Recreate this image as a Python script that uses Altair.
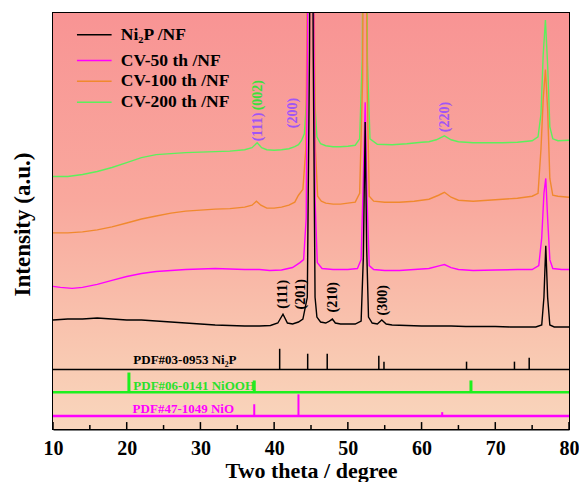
import altair as alt
import pandas as pd

# ---------------- data ----------------
SERIES = ["Ni₂P /NF", "CV-50 th /NF", "CV-100 th /NF", "CV-200 th /NF"]
COLORS = ["#000000", "#FF00FF", "#F0892E", "#5CF05C"]

X_CV200 = [10, 12, 14, 16, 18, 20, 22, 24, 26, 28, 30, 32, 34, 36, 37, 37.7, 38.3, 39, 40, 41,
           42, 42.8, 43.3, 43.7, 44.1, 44.4, 44.7, 44.95, 45.2, 45.5, 45.8, 46.3, 47, 48, 49, 50, 51,
           51.6, 51.95, 52.3, 52.65, 53, 54, 56, 58, 60, 61, 62, 63.1, 64, 65, 67, 69, 71, 73, 75,
           75.8, 76.2, 76.5, 76.8, 77.1, 77.4, 77.8, 78.5, 80]
I_CV200 = [255, 255, 257, 260, 264, 269, 274, 277, 278, 279, 279.5, 280, 280.5, 282, 284, 289, 284,
           282, 281.5, 282, 283, 285, 287, 291, 298, 333, 533, 833, 533, 333, 295, 288, 286, 285, 285,
           285.5, 286.5, 293, 373, 833, 373, 293, 287.5, 287, 288, 289.5, 290, 292, 296, 292, 290, 289,
           289, 289, 289.5, 291, 295, 318, 378, 413, 368, 305, 293, 291, 291.5]

X_CV100 = [10, 12, 14, 16, 18, 20, 22, 24, 26, 28, 30, 32, 34, 36, 37, 37.6, 38.2, 39, 40, 41,
           42, 42.8, 43.3, 43.9, 44.3, 44.6, 44.95, 45.3, 45.6, 45.9, 46.4, 47, 48, 49, 50, 51, 51.6,
           52.0, 52.3, 52.6, 52.9, 53.5, 55, 57, 59, 61, 62.3, 63.1, 64, 65, 67, 69, 71, 73, 75, 75.8,
           76.2, 76.5, 76.8, 77.1, 77.4, 77.8, 78.5, 80]
I_CV100 = [198, 198, 199, 201, 204, 208, 212, 215, 218, 220, 221, 222, 222.5, 224, 226, 230, 226,
           223, 223, 224, 226, 229, 236, 242, 283, 533, 833, 533, 283, 235, 230, 228, 227, 227, 228,
           229, 238, 353, 833, 353, 235, 230, 229, 229, 230, 232, 236, 239, 234, 231, 230, 231, 232,
           233, 235, 238, 283, 333, 363, 323, 253, 236, 235, 234]

X_CV50 = [10, 11, 12.6, 14, 16, 18, 20, 22, 24, 26, 28, 30, 32, 34, 36, 38, 39.4, 41, 42.5, 43.5,
          44.0, 44.35, 44.65, 44.95, 45.25, 45.55, 45.85, 46.5, 48, 50, 51.3, 51.8, 52.1, 52.35, 52.6,
          52.9, 53.5, 55, 57, 59, 61, 62.5, 63.1, 64, 65, 67, 70, 73, 75, 75.9, 76.3, 76.6, 76.85,
          77.1, 77.4, 77.8, 79, 80]
I_CV50 = [144, 143, 142, 143, 146, 150, 154, 157, 159, 160, 161, 161.5, 162, 161.5, 161, 161, 160,
          160.5, 163, 168, 171, 213, 533, 833, 533, 233, 168, 162, 161, 161, 162, 171, 253, 330, 233,
          165, 161, 160, 160, 161, 162, 165, 166, 163, 161, 160, 160.5, 161, 161, 165, 193, 238, 253,
          213, 171, 162, 161, 161]

X_NI2P = [10, 12, 14, 16, 18, 20, 22, 24, 26, 28, 30, 32, 34, 36, 38, 39.5, 40.5, 41.2, 41.8, 42.5,
          43.3, 43.9, 44.5, 44.8, 45.05, 45.3, 45.55, 45.8, 46.3, 47, 47.5, 47.9, 48.3, 49, 50, 51,
          51.8, 52.1, 52.35, 52.55, 52.8, 53.3, 54, 54.6, 55.2, 56, 58, 60, 62, 64, 66, 68, 70, 72,
          74, 75.5, 76.3, 76.6, 76.85, 77.1, 77.4, 78, 80]
I_NI2P = [110, 111, 111, 112, 111, 110, 110, 109, 108, 107, 106, 105, 104.5, 104, 104, 104.5, 107,
          116, 107, 106, 108, 111, 133, 383, 833, 383, 133, 113, 108, 107, 109, 111, 107, 106, 106,
          106, 109, 173, 310, 183, 113, 107, 106, 110, 106, 105, 104.5, 104, 104, 104, 103.5, 103.5,
          103.5, 103, 103, 103, 105, 133, 185, 133, 105, 103, 103]

# reference patterns (2theta, stick height)
PDF_NI2P_POS = [40.75, 44.55, 47.2, 54.2, 54.9, 66.1, 72.6, 74.6]
PDF_NI2P_H = [21, 16, 16, 14, 8, 8, 8, 12]
PDF_NIOOH_POS = [20.3, 37.3, 66.7]
PDF_NIOOH_H = [20, 12, 12]
PDF_NIO_POS = [37.3, 43.3, 62.8]
PDF_NIO_H = [12, 22, 4]
PDF_NAMES = ["PDF#03-0953 Ni₂P", "PDF#06-0141 NiOOH", "PDF#47-1049 NiO"]

# peak labels
PEAK_TEXT_PURPLE = ["(111)", "(200)", "(220)"]
PEAK_X_PURPLE = [37.8, 42.55, 63.2]
PEAK_Y_PURPLE = [305, 319, 315]
PEAK_TEXT_GREEN = ["(002)"]
PEAK_X_GREEN = [37.8]
PEAK_Y_GREEN = [337]
PEAK_TEXT_BLACK = ["(111)", "(201)", "(210)", "(300)"]
PEAK_X_BLACK = [41.2, 43.65, 48.0, 54.7]
PEAK_Y_BLACK = [136, 136, 133, 130]

MAJOR_TICKS = [10, 20, 30, 40, 50, 60, 70, 80]
MINOR_TICKS = [15, 25, 35, 45, 55, 65, 75]

# ---------------- chart ----------------
FONT = "Liberation Serif"
X0, X1 = 10, 80
Y0, Y1 = 0, 420
BASE_NI2P, BASE_NIOOH, BASE_NIO = 60, 37, 13
GREEN_REF = "#1EF01E"
MAGENTA = "#FF00FF"
PURPLE = "#A055F5"
LEGEND_ROWS = [398, 372, 351, 330]          # legend row heights in plot units
LEGEND_LINE = (13.25, 17.95)                # legend line start / end (2-theta units)
LEGEND_TEXT_X = 19.2

X_SCALE = alt.Scale(domain=[X0, X1], nice=False)
Y_SCALE = alt.Scale(domain=[Y0, Y1], nice=False, zero=False)
X_AXIS = alt.Axis(values=MAJOR_TICKS, ticks=False, grid=False, labelFlush=False, labelOverlap=False,
                  labelFont=FONT, labelFontSize=20, labelFontWeight="bold", labelColor="black",
                  labelBaseline="alphabetic", labelPadding=25,
                  domainColor="black", domainWidth=2,
                  title="Two theta / degree", titleFont=FONT, titleFontSize=22, titleFontWeight="bold",
                  titleColor="black", titleBaseline="alphabetic", titleY=48.5)
Y_AXIS = alt.Axis(labels=False, ticks=False, grid=False, domainColor="black", domainWidth=2,
                  title="Intensity (a.u.)", titleFont=FONT, titleFontSize=23, titleFontWeight="bold",
                  titleColor="black", titleAngle=270, titleX=-19, titleY=211,
                  titleBaseline="bottom", titleAlign="center")


def xenc(field="two_theta"):
    return alt.X(f"{field}:Q", scale=X_SCALE, axis=X_AXIS)


def yenc(field="intensity"):
    return alt.Y(f"{field}:Q", scale=Y_SCALE, axis=Y_AXIS)


# background gradient
bg_df = pd.DataFrame({"two_theta": [X0], "two_theta2": [X1], "intensity": [Y0], "intensity2": [Y1]})
background = alt.Chart(bg_df).mark_rect(
    fill={"gradient": "linear", "x1": 0, "y1": 0, "x2": 0, "y2": 1,
          "stops": [{"offset": 0, "color": "#F89494"},
                    {"offset": 0.45, "color": "#F9A89D"},
                    {"offset": 0.85, "color": "#F9CBB3"},
                    {"offset": 1, "color": "#F9D6BD"}]},
    stroke=None
).encode(x=xenc(), x2="two_theta2:Q", y=yenc(), y2="intensity2:Q")

# traces
order = [3, 2, 1, 0]
xs = [X_NI2P, X_CV50, X_CV100, X_CV200]
ys = [I_NI2P, I_CV50, I_CV100, I_CV200]
traces = pd.concat([pd.DataFrame({"two_theta": xs[k], "intensity": ys[k], "series": SERIES[k]})
                    for k in order], ignore_index=True)
lines = alt.Chart(traces).mark_line(clip=True, strokeWidth=1.4).encode(
    x=xenc(), y=yenc(),
    color=alt.Color("series:N", scale=alt.Scale(domain=SERIES, range=COLORS), legend=None)
)

# legend (built from the series names and colours)
legend_df = pd.DataFrame({"series": SERIES, "col": COLORS, "intensity": LEGEND_ROWS,
                          "two_theta": [LEGEND_LINE[0]] * 4, "two_theta2": [LEGEND_LINE[1]] * 4,
                          "tx": [LEGEND_TEXT_X] * 4})
legend_lines = alt.Chart(legend_df).mark_rule(strokeWidth=1.5).encode(
    x=xenc(), x2="two_theta2:Q", y=yenc(), stroke=alt.Stroke("col:N", scale=None))
legend_text = alt.Chart(legend_df).mark_text(
    font=FONT, fontSize=17.5, fontWeight="bold", color="black", align="left", baseline="middle"
).encode(x=alt.X("tx:Q", scale=X_SCALE, axis=X_AXIS), y=yenc(), text="series:N")


def baseline_layer(base, color, width):
    df = pd.DataFrame({"two_theta": [X0], "two_theta2": [X1], "intensity": [base]})
    return alt.Chart(df).mark_rule(color=color, strokeWidth=width).encode(
        x=xenc(), x2="two_theta2:Q", y=yenc())


def stick_layer(pos, h, base, color, width):
    df = pd.DataFrame({"two_theta": pos, "intensity": [base] * len(pos),
                       "intensity2": [base + v for v in h]})
    return alt.Chart(df).mark_rule(color=color, strokeWidth=width).encode(
        x=xenc(), y=yenc(), y2="intensity2:Q")


def label_layer(text, x, y, color, size, angle=0, align="center"):
    df = pd.DataFrame({"two_theta": x, "intensity": y, "label": text})
    kw = dict(color=color, font=FONT, fontSize=size, fontWeight="bold", align=align, baseline="middle")
    if angle:
        kw["angle"] = angle
    return alt.Chart(df).mark_text(**kw).encode(x=xenc(), y=yenc(), text="label:N")


ticks_major = pd.DataFrame({"two_theta": MAJOR_TICKS, "intensity": [Y0] * len(MAJOR_TICKS),
                            "intensity2": [Y0 + 7] * len(MAJOR_TICKS)})
ticks_minor = pd.DataFrame({"two_theta": MINOR_TICKS, "intensity": [Y0] * len(MINOR_TICKS),
                            "intensity2": [Y0 + 4] * len(MINOR_TICKS)})
tick_layers = [alt.Chart(d).mark_rule(color="black", strokeWidth=1.5).encode(
    x=xenc(), y=yenc(), y2="intensity2:Q") for d in (ticks_major, ticks_minor)]

layers = [background,
          baseline_layer(BASE_NI2P, "black", 1.5),
          baseline_layer(BASE_NIOOH, GREEN_REF, 2.5),
          baseline_layer(BASE_NIO, MAGENTA, 2.5),
          stick_layer(PDF_NI2P_POS, PDF_NI2P_H, BASE_NI2P, "black", 1.5),
          stick_layer(PDF_NIOOH_POS, PDF_NIOOH_H, BASE_NIOOH, GREEN_REF, 3),
          stick_layer(PDF_NIO_POS, PDF_NIO_H, BASE_NIO, MAGENTA, 2),
          label_layer([PDF_NAMES[0]], [20.9], [BASE_NI2P + 10], "black", 13, align="left"),
          label_layer([PDF_NAMES[1]], [20.9], [BASE_NIOOH + 6], "#2BE02B", 13, align="left"),
          label_layer([PDF_NAMES[2]], [20.8], [BASE_NIO + 7.5], MAGENTA, 13, align="left"),
          lines,
          legend_lines, legend_text,
          label_layer(PEAK_TEXT_PURPLE, PEAK_X_PURPLE, PEAK_Y_PURPLE, PURPLE, 14, angle=270),
          label_layer(PEAK_TEXT_GREEN, PEAK_X_GREEN, PEAK_Y_GREEN, "#3CE03C", 14, angle=270),
          label_layer(PEAK_TEXT_BLACK, PEAK_X_BLACK, PEAK_Y_BLACK, "black", 14, angle=270),
          ] + tick_layers

chart = alt.layer(*layers).properties(
    width=516, height=416,
    autosize=alt.AutoSizeParams(type="none"),
    padding={"left": 45, "top": 5, "right": 10, "bottom": 53},
    background="white",
).configure_view(stroke="black", strokeWidth=2)

chart.save("out.html", embed_options={"renderer": "svg", "actions": False})
